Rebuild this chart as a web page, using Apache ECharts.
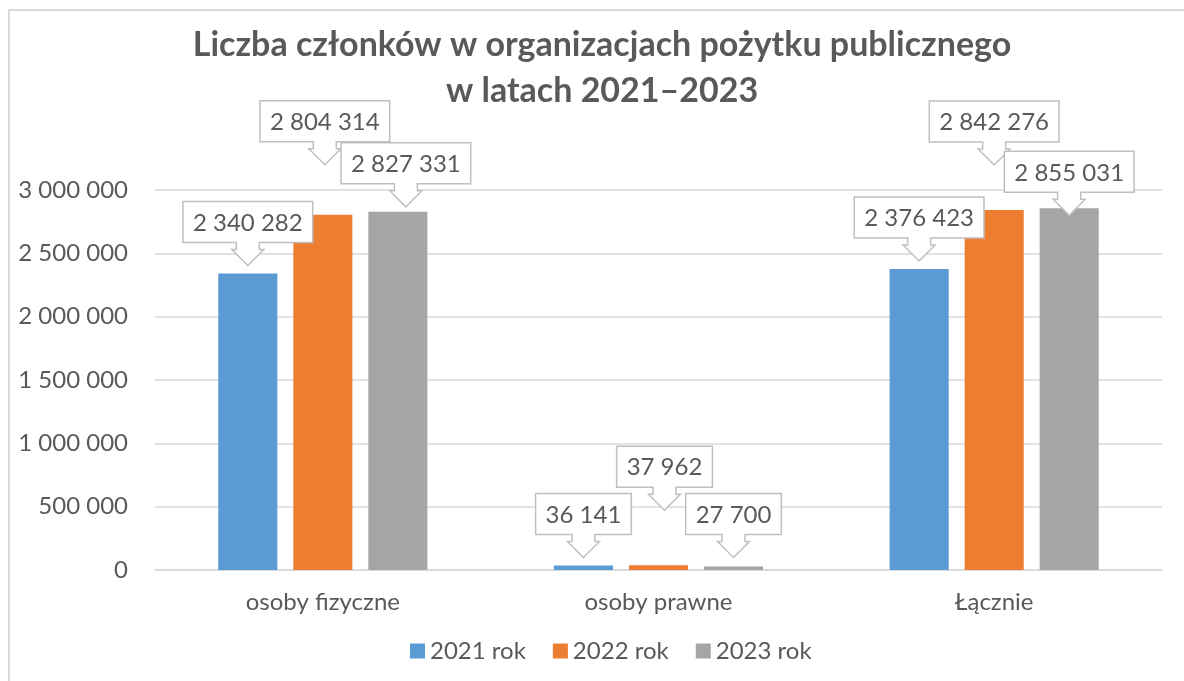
<!DOCTYPE html>
<html>
<head>
<meta charset="utf-8">
<script src="https://cdn.jsdelivr.net/npm/echarts@6/dist/echarts.min.js"></script>
<style>
  html, body { margin: 0; padding: 0; background: #fff; }
  #chart { width: 1184px; height: 681px; }
</style>
</head>
<body>
<div id="chart"></div>
<script>
// data
var categories = ['osoby fizyczne', 'osoby prawne', 'Łącznie']
var years = ['2021 rok', '2022 rok', '2023 rok']
var v2021 = [2340282, 36141, 2376423]
var v2022 = [2804314, 37962, 2842276]
var v2023 = [2827331, 27700, 2855031]
var yTicks = [0, 500000, 1000000, 1500000, 2000000, 2500000, 3000000]

// callout placement: [dx, lift] in px from the bar top, per year then category
var calloutShift = [
  [[0, 8], [0, 8], [0, 8]],
  [[2, 50], [6, 55], [0, 45]],
  [[8, 5], [0, 9], [0, -7]]
]

var colors = ['#5b9bd5', '#ed7d31', '#a5a5a5']
var textColor = '#595959'
var FONT = 'Lato'
var BAR_W = 0.176
var BAR_GAP = 0.27

var fmt = function (v) {
  return String(v).replace(/\B(?=(\d{3})+(?!\d))/g, ' ')
}

var measureCtx = document.createElement('canvas').getContext('2d')
measureCtx.font = '24px ' + FONT

function calloutRenderer (k) {
  return function (params, api) {
    var cat = api.value(0)
    var val = api.value(1)
    var band = api.size([1, 0])[0]
    var w = band * BAR_W
    var g = w * BAR_GAP
    var top = api.coord([cat, val])
    var shift = calloutShift[k][params.dataIndex]
    var tx = top[0] + (k - 1) * (w + g) + shift[0]
    var ty = top[1] - shift[1]
    var label = fmt(val)
    var bw = measureCtx.measureText(label).width + 20
    var bh = 41
    var by = ty - 23
    var L = tx - bw / 2
    var R = tx + bw / 2
    var pts = [
      [L, by - bh], [R, by - bh], [R, by],
      [tx + 11.5, by], [tx + 11.5, by + 7], [tx + 16, by + 7],
      [tx, ty],
      [tx - 16, by + 7], [tx - 11.5, by + 7], [tx - 11.5, by],
      [L, by]
    ]
    return {
      type: 'group',
      children: [
        {
          type: 'polygon',
          shape: {points: pts},
          style: {fill: '#fff', stroke: '#bfbfbf', lineWidth: 1.5}
        },
        {
          type: 'text',
          x: tx,
          y: by - bh / 2 + 1,
          style: {
            text: label,
            fill: textColor,
            font: '24px ' + FONT,
            align: 'center',
            verticalAlign: 'middle'
          }
        }
      ]
    }
  }
}

var values = [v2021, v2022, v2023]
var series = []
for (var k = 0; k < 3; k++) {
  series.push({
    name: years[k],
    type: 'bar',
    data: values[k],
    barWidth: (BAR_W * 100) + '%',
    barGap: (BAR_GAP * 100) + '%',
    itemStyle: {color: colors[k]}
  })
}
for (k = 0; k < 3; k++) {
  var pts = []
  for (var i = 0; i < categories.length; i++) pts.push([i, values[k][i]])
  series.push({
    name: 'callout' + k,
    type: 'custom',
    renderItem: calloutRenderer(k),
    data: pts,
    encode: {x: 0, y: 1},
    silent: true,
    z: 10,
    clip: false
  })
}

var chart = echarts.init(document.getElementById('chart'))
chart.setOption({
  animation: false,
  textStyle: {fontFamily: FONT},
  title: {
    text: 'Liczba członków w organizacjach pożytku publicznego\nw latach 2021–2023',
    left: 597,
    textAlign: 'center',
    top: 17,
    textStyle: {
      fontFamily: FONT,
      fontSize: 34,
      fontWeight: 'bold',
      color: textColor,
      lineHeight: 46
    }
  },
  graphic: [{
    type: 'rect',
    shape: {x: 9, y: 10, width: 1200, height: 700},
    style: {fill: 'none', stroke: '#d9d9d9', lineWidth: 2},
    silent: true
  }],
  legend: {
    data: years,
    left: 405,
    top: 634,
    itemWidth: 15,
    itemHeight: 15,
    itemGap: 27,
    icon: 'rect',
    textStyle: {fontFamily: FONT, fontSize: 24, color: textColor}
  },
  grid: {left: 155, right: 22, top: 190, bottom: 111},
  xAxis: {
    type: 'category',
    data: categories,
    axisLine: {lineStyle: {color: '#d9d9d9', width: 1.5}},
    axisTick: {show: false},
    axisLabel: {fontFamily: FONT, fontSize: 24, color: textColor, margin: 20}
  },
  yAxis: {
    type: 'value',
    min: yTicks[0],
    max: yTicks[yTicks.length - 1],
    interval: yTicks[1] - yTicks[0],
    axisLine: {show: false},
    axisTick: {show: false},
    splitLine: {lineStyle: {color: '#d9d9d9', width: 1.5}},
    axisLabel: {fontFamily: FONT, fontSize: 24, color: textColor, margin: 27, formatter: fmt}
  },
  series: series
})
</script>
</body>
</html>
